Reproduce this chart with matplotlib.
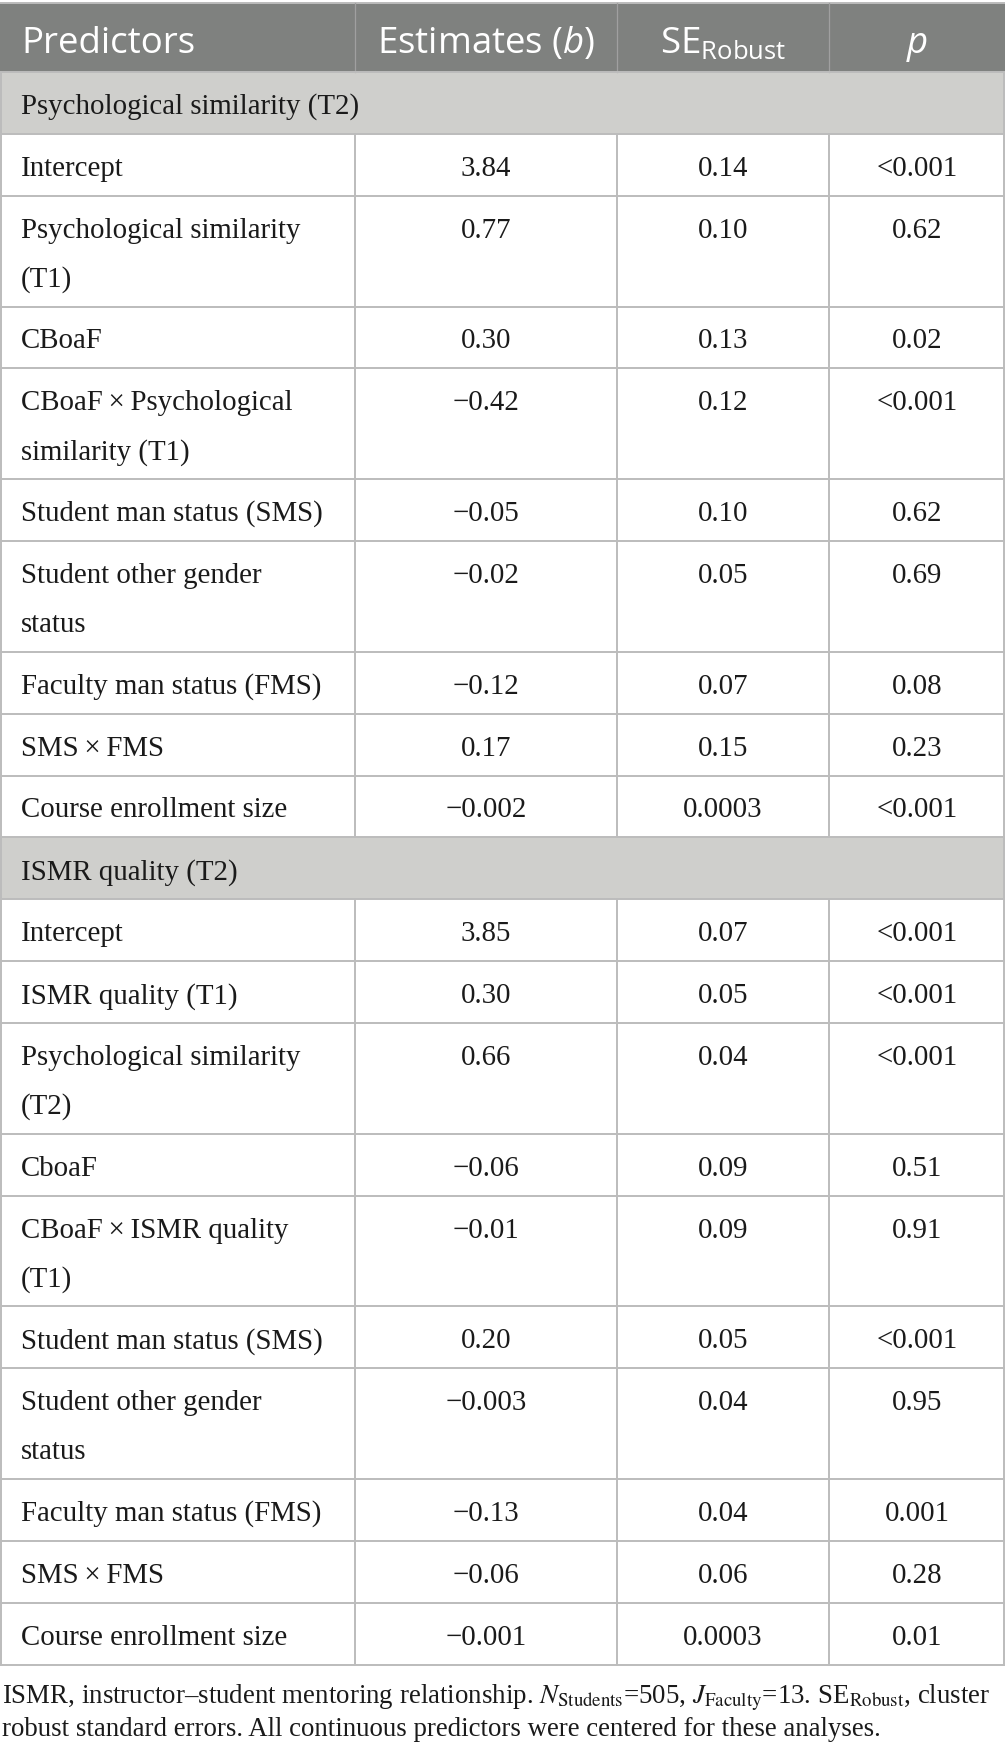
import matplotlib
matplotlib.use("Agg")
import matplotlib.pyplot as plt
from matplotlib.patches import Rectangle

# ---------------- data ----------------
columns = ["Predictors", "Estimates ($b$)", r"SE$_{\mathrm{Robust}}$", "$p$"]

section_names = ["Psychological similarity (T2)", "ISMR quality (T2)"]

predictors_psych = [
    "Intercept",
    "Psychological similarity\n(T1)",
    "CBoaF",
    "CBoaF\u2009×\u2009Psychological\nsimilarity (T1)",
    "Student man status (SMS)",
    "Student other gender\nstatus",
    "Faculty man status (FMS)",
    "SMS\u2009×\u2009FMS",
    "Course enrollment size",
]
estimates_psych = ["3.84", "0.77", "0.30", "\u22120.42", "\u22120.05", "\u22120.02", "\u22120.12", "0.17", "\u22120.002"]
se_psych = ["0.14", "0.10", "0.13", "0.12", "0.10", "0.05", "0.07", "0.15", "0.0003"]
p_psych = ["<0.001", "0.62", "0.02", "<0.001", "0.62", "0.69", "0.08", "0.23", "<0.001"]

predictors_ismr = [
    "Intercept",
    "ISMR quality (T1)",
    "Psychological similarity\n(T2)",
    "CboaF",
    "CBoaF\u2009×\u2009ISMR quality\n(T1)",
    "Student man status (SMS)",
    "Student other gender\nstatus",
    "Faculty man status (FMS)",
    "SMS\u2009×\u2009FMS",
    "Course enrollment size",
]
estimates_ismr = ["3.85", "0.30", "0.66", "\u22120.06", "\u22120.01", "0.20", "\u22120.003", "\u22120.13", "\u22120.06", "\u22120.001"]
se_ismr = ["0.07", "0.05", "0.04", "0.09", "0.09", "0.05", "0.04", "0.04", "0.06", "0.0003"]
p_ismr = ["<0.001", "<0.001", "<0.001", "0.51", "0.91", "<0.001", "0.95", "0.001", "0.28", "0.01"]

footnote_lines = [
    r"ISMR, instructor–student mentoring relationship. $N_{\mathrm{Students}}$=505, "
    r"$J_{\mathrm{Faculty}}$=13. SE$_{\mathrm{Robust}}$, cluster",
    "robust standard errors. All continuous predictors were centered for these analyses.",
]

# ---------------- style ----------------
plt.rcParams["mathtext.fontset"] = "custom"
plt.rcParams["mathtext.rm"] = "Open Sans"
plt.rcParams["mathtext.it"] = "Open Sans:italic"
plt.rcParams["mathtext.bf"] = "Open Sans:bold"

W, H = 1005, 1756
HEADER_BG = "#7f817f"
SECTION_BG = "#cfcfcc"
GRID = "#bcbcbc"
HEADER_GRID = "#a0a0a0"
TEXT = "#1a1a1a"
BODY_FONT = ["Liberation Serif", "DejaVu Serif"]
HEAD_FONT = ["Open Sans", "DejaVu Sans"]
BODY_SIZE = 20.8
HEAD_SIZE = 26.4
FOOT_SIZE = 19.4

col_x = [0, 355, 617, 829, W]
col_centers = [(col_x[i] + col_x[i + 1]) / 2 for i in range(4)]
LEFT_PAD = 21
HEADER_TOP, HEADER_BOT = 4, 73
ROW_H = 61.9
LINE_PITCH = 48.8
BASE_OFF = 41

fig = plt.figure(figsize=(W / 100, H / 100), dpi=100)
ax = fig.add_axes([0, 0, 1, 1])
ax.set_xlim(0, W)
ax.set_ylim(H, 0)
ax.axis("off")

# ---------- header ----------
ax.add_patch(Rectangle((0, HEADER_TOP), W, HEADER_BOT - HEADER_TOP, facecolor=HEADER_BG, edgecolor="none"))
ax.plot([0, W], [HEADER_TOP, HEADER_TOP], color=GRID, lw=1.4, solid_capstyle="butt")
for x in col_x[1:-1]:
    ax.plot([x, x], [HEADER_TOP, HEADER_BOT], color=HEADER_GRID, lw=0.9)
head_base = 53
for i, name in enumerate(columns):
    if i == 0:
        ax.text(LEFT_PAD, head_base, name, ha="left", va="baseline", color="white",
                fontsize=HEAD_SIZE, family=HEAD_FONT)
    else:
        ax.text(col_centers[i], head_base, name, ha="center", va="baseline", color="white",
                fontsize=HEAD_SIZE, family=HEAD_FONT)

# ---------- body ----------
blocks = [
    (section_names[0], predictors_psych, estimates_psych, se_psych, p_psych),
    (section_names[1], predictors_ismr, estimates_ismr, se_ismr, p_ismr),
]

y = HEADER_BOT
hlines = [y]
for sec, preds, ests, ses, ps in blocks:
    # section row
    ax.add_patch(Rectangle((0, y), W, ROW_H, facecolor=SECTION_BG, edgecolor="none", zorder=0))
    ax.text(LEFT_PAD, y + BASE_OFF, sec, ha="left", va="baseline", color=TEXT,
            fontsize=BODY_SIZE, family=BODY_FONT)
    ax.plot([1, 1], [y, y + ROW_H], color=GRID, lw=1.4)
    ax.plot([W - 1, W - 1], [y, y + ROW_H], color=GRID, lw=1.4)
    y += ROW_H
    hlines.append(y)
    for pred, est, se, p in zip(preds, ests, ses, ps):
        lines = pred.split("\n")
        h = ROW_H + LINE_PITCH * (len(lines) - 1)
        for k, ln in enumerate(lines):
            ax.text(LEFT_PAD, y + BASE_OFF + k * LINE_PITCH, ln, ha="left", va="baseline",
                    color=TEXT, fontsize=BODY_SIZE, family=BODY_FONT)
        for ci, val in zip([1, 2, 3], [est, se, p]):
            ax.text(col_centers[ci], y + BASE_OFF, val, ha="center", va="baseline",
                    color=TEXT, fontsize=BODY_SIZE, family=BODY_FONT)
        for x in [1] + col_x[1:-1] + [W - 1]:
            ax.plot([x, x], [y, y + h], color=GRID, lw=1.4)
        y += h
        hlines.append(y)

for yy in hlines:
    ax.plot([0, W], [yy, yy], color=GRID, lw=1.4, solid_capstyle="butt")

# ---------- footnote ----------
foot_base = [y + 38, y + 70]
for fb, txt in zip(foot_base, footnote_lines):
    ax.text(2, fb, txt, ha="left", va="baseline", color=TEXT, fontsize=FOOT_SIZE,
            family=BODY_FONT, math_fontfamily="stix")

fig.savefig("out.png", dpi=100)
